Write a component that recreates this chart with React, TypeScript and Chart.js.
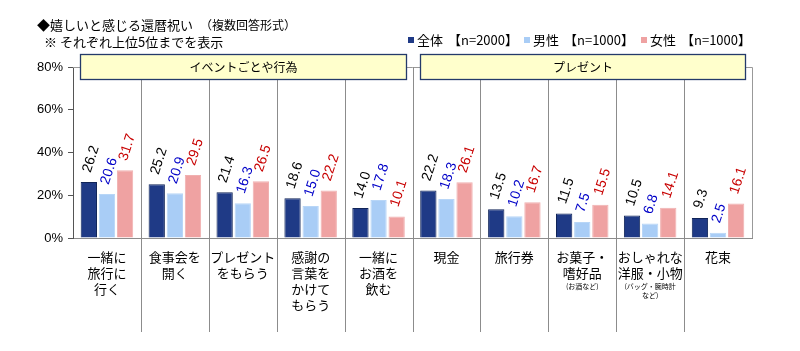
import React, { useEffect, useRef } from "react";
import { Chart, registerables } from "chart.js";

Chart.register(...registerables);

const categories = [
  "一緒に旅行に行く",
  "食事会を開く",
  "プレゼントをもらう",
  "感謝の言葉をかけてもらう",
  "一緒にお酒を飲む",
  "現金",
  "旅行券",
  "お菓子・嗜好品",
  "おしゃれな洋服・小物",
  "花束",
];
const categoryLines: string[][] = [
  ["一緒に", "旅行に", "行く"],
  ["食事会を", "開く"],
  ["プレゼント", "をもらう"],
  ["感謝の", "言葉を", "かけて", "もらう"],
  ["一緒に", "お酒を", "飲む"],
  ["現金"],
  ["旅行券"],
  ["お菓子・", "嗜好品"],
  ["おしゃれな", "洋服・小物"],
  ["花束"],
];
const categoryNotes: string[][] = [[], [], [], [], [], [], [], ["(お酒など)"], ["(バッグ・腕時計", "など)"], []];

const seriesNames = ["全体", "男性", "女性"];
const seriesN = ["【n=2000】", "【n=1000】", "【n=1000】"];
const totalValues = [26.2, 25.2, 21.4, 18.6, 14.0, 22.2, 13.5, 11.5, 10.5, 9.3];
const maleValues = [20.6, 20.9, 16.3, 15.0, 17.8, 18.3, 10.2, 7.5, 6.8, 2.5];
const femaleValues = [31.7, 29.5, 26.5, 22.2, 10.1, 26.1, 16.7, 15.5, 14.1, 16.1];
const groupLabels = ["イベントごとや行為", "プレゼント"];
const groupSizes = [5, 5];
const yTicks = [0, 20, 40, 60, 80];

const fills = ["#1F3A86", "#A9CDF6", "#EFA2A2"];
const borders = ["#102458", "#B8D6F7", "#F0B0B0"];
const labelColors = ["#000000", "#0000C8", "#C80000"];

const JP = '"Noto Sans CJK JP", "Noto Sans", sans-serif';
const NUM = '"Liberation Sans", Arial, sans-serif';

const overlay = {
  id: "overlay",
  beforeDatasetsDraw(chart: any) {
    const ctx = chart.ctx;
    const a = chart.chartArea;
    const n = categories.length;
    const w = (a.right - a.left) / n;
    ctx.save();
    ctx.strokeStyle = "#999999";
    ctx.lineWidth = 1;
    ctx.beginPath();
    ctx.moveTo(a.left, a.top + 0.5);
    ctx.lineTo(a.right + 0.5, a.top + 0.5);
    ctx.lineTo(a.right + 0.5, a.bottom);
    ctx.stroke();
    ctx.strokeStyle = "#8C8C8C";
    for (let i = 1; i < n; i++) {
      const x = Math.round(a.left + i * w) + 0.5;
      ctx.beginPath();
      ctx.moveTo(x, a.top);
      ctx.lineTo(x, 332);
      ctx.stroke();
    }
    ctx.restore();
  },
  afterDatasetsDraw(chart: any) {
    const ctx = chart.ctx;
    const a = chart.chartArea;
    const n = categories.length;
    const w = (a.right - a.left) / n;
    ctx.save();
    chart.data.datasets.forEach((ds: any, di: number) => {
      const meta = chart.getDatasetMeta(di);
      meta.data.forEach((bar: any, i: number) => {
        const v = ds.data[i];
        ctx.save();
        ctx.translate(bar.x - 2, bar.y - 10);
        ctx.rotate((-72 * Math.PI) / 180);
        ctx.fillStyle = labelColors[di];
        ctx.font = `14px ${NUM}`;
        ctx.textAlign = "left";
        ctx.textBaseline = "middle";
        ctx.fillText(v.toFixed(1), 0, 0);
        ctx.restore();
      });
    });
    let start = 0;
    groupSizes.forEach((size, gi) => {
      const x0 = Math.round(a.left + start * w + 7) + 0.5;
      const x1 = Math.round(a.left + (start + size) * w - 7) + 0.5;
      const y0 = a.top - 12.5;
      const y1 = a.top + 12.5;
      ctx.fillStyle = "#FFFFCC";
      ctx.fillRect(x0, y0, x1 - x0, y1 - y0);
      ctx.strokeStyle = "#243A6A";
      ctx.lineWidth = 1.3;
      ctx.strokeRect(x0, y0, x1 - x0, y1 - y0);
      ctx.fillStyle = "#000";
      ctx.font = `12px ${JP}`;
      ctx.textAlign = "center";
      ctx.textBaseline = "middle";
      ctx.fillText(groupLabels[gi], (x0 + x1) / 2, (y0 + y1) / 2);
      start += size;
    });
    ctx.fillStyle = "#000";
    ctx.textAlign = "center";
    ctx.textBaseline = "middle";
    categoryLines.forEach((lines, i) => {
      const cx = a.left + (i + 0.5) * w;
      let y = 257;
      ctx.font = `13px ${JP}`;
      lines.forEach((ln) => {
        ctx.fillText(ln, cx, y);
        y += 16;
      });
      ctx.font = `7px ${JP}`;
      let ny = y - 3;
      categoryNotes[i].forEach((ln) => {
        ctx.fillText(ln, cx, ny);
        ny += 9;
      });
    });
    ctx.textAlign = "left";
    ctx.font = `13px ${JP}`;
    ctx.fillText("◆嬉しいと感じる還暦祝い", 37, 25);
    ctx.font = `12px ${JP}`;
    ctx.fillText("（複数回答形式）", 200, 25);
    ctx.font = `13px ${JP}`;
    ctx.fillText("※ それぞれ上位5位までを表示", 44, 42);
    const sqX = [408, 524, 641];
    seriesNames.forEach((name, i) => {
      ctx.fillStyle = fills[i];
      ctx.fillRect(sqX[i], 37, 6, 6);
      ctx.fillStyle = "#000";
      ctx.font = `13px ${JP}`;
      ctx.fillText(name, sqX[i] + 9, 40);
      ctx.fillText(seriesN[i], sqX[i] + 40, 40);
    });
    ctx.restore();
  },
};

export default function App() {
  const ref = useRef<HTMLCanvasElement>(null);
  useEffect(() => {
    if (!ref.current) return;
    const chart = new Chart(ref.current, {
      type: "bar",
      data: {
        labels: categories,
        datasets: [totalValues, maleValues, femaleValues].map((d, i) => ({
          label: seriesNames[i],
          data: d,
          backgroundColor: fills[i],
          borderColor: borders[i],
          borderWidth: 1,
          categoryPercentage: 0.8,
          barPercentage: 0.9,
        })),
      },
      options: {
        animation: false,
        responsive: false,
        devicePixelRatio: 1,
        layout: { padding: { left: 0, top: 67, right: 48, bottom: 0 } },
        plugins: { legend: { display: false }, tooltip: { enabled: false }, title: { display: false } },
        scales: {
          x: {
            ticks: { display: false },
            grid: { display: false },
            border: { display: true, color: "#8C8C8C" },
            afterFit: (s: any) => {
              s.height = 113;
            },
          },
          y: {
            min: 0,
            max: 80,
            afterBuildTicks: (s: any) => {
              s.ticks = yTicks.map((v) => ({ value: v }));
            },
            ticks: {
              callback: (v: any) => v + "%",
              color: "#000",
              font: { family: NUM, size: 13 },
              padding: 5,
            },
            grid: { drawOnChartArea: false, tickLength: 5, color: "#555" },
            border: { display: true, color: "#555" },
            afterFit: (s: any) => {
              s.width = 73;
            },
          },
        },
      },
      plugins: [overlay],
    });
    return () => chart.destroy();
  }, []);
  return (
    <div style={{ position: "absolute", left: 0, top: 0, width: 800, height: 351, background: "#fff" }}>
      <canvas ref={ref} width={800} height={351} style={{ width: 800, height: 351 }} />
    </div>
  );
}
